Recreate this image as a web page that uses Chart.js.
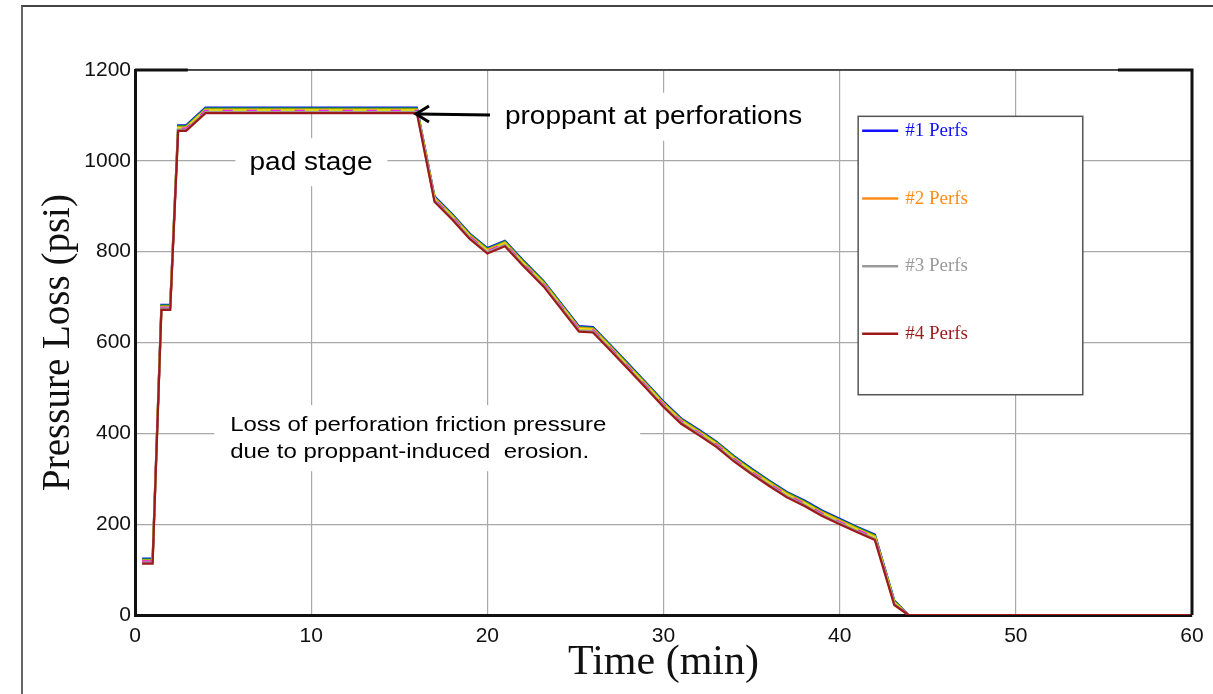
<!DOCTYPE html>
<html>
<head>
<meta charset="utf-8">
<title>Pressure Loss vs Time</title>
<script src="https://cdn.jsdelivr.net/npm/chart.js@4.4.1/dist/chart.umd.min.js"></script>
<style>
  html, body { margin: 0; padding: 0; background: #fff; }
  #frame { position: absolute; left: 21px; top: 5px; width: 1192px; height: 689px;
           border-top: 2px solid #444; border-left: 2px solid #666; box-sizing: border-box; }
  #wrap { position: absolute; left: 0; top: 0; width: 1213px; height: 694px; }
</style>
</head>
<body>
<div id="frame"></div>
<div id="wrap"><canvas id="lossChart" width="1213" height="694"></canvas></div>
<script>
// time axis shared by every curve (min)
var timeMin = [0.4, 1.0, 1.5, 2.0, 2.45, 2.9, 4.0, 16.0, 17.0, 18.0, 19.0, 20.0, 21.0, 22.0, 23.2, 25.2,
               26.0, 27.0, 28.0, 29.0, 30.0, 31.0, 32.0, 33.0, 34.0, 35.0, 36.0, 37.0, 38.0, 39.0,
               40.0, 41.0, 42.0, 43.1, 43.9, 60];

// pressure loss (psi) per perforation cluster
var perfs1 = [124, 124, 683, 683, 1078, 1078, 1117, 1117, 922, 883, 840, 808, 824, 782, 735, 636,
              634, 594, 553, 512, 470, 433, 408, 382, 350, 322, 296, 271, 252, 230, 212, 194, 177, 32, 0, 0];
var perfsG = [122, 122, 681, 681, 1076, 1076, 1115, 1115, 920, 881, 838, 806, 822, 780, 733, 634,
              632, 592, 551, 510, 468, 431, 406, 380, 348, 320, 294, 269, 250, 228, 210, 192, 175, 30, 0, 0];
var perfs2 = [120, 120, 679, 679, 1074, 1074, 1113, 1113, 918, 879, 836, 804, 820, 778, 731, 632,
              630, 590, 549, 508, 466, 429, 404, 378, 346, 318, 292, 267, 248, 226, 208, 190, 173, 28, 0, 0];
var perfsY = [119, 119, 678, 678, 1072, 1072, 1111, 1111, 916, 877, 834, 802, 818, 776, 729, 630,
              628, 588, 547, 506, 464, 427, 402, 376, 344, 316, 290, 265, 246, 224, 206, 188, 171, 27, 0, 0];
var perfsM = [118, 118, 677, 677, 1071, 1071, 1110, 1110, 915, 876, 833, 801, 817, 775, 728, 629,
              627, 587, 546, 505, 463, 426, 401, 375, 343, 315, 289, 264, 245, 223, 205, 187, 170, 26, 0, 0];
var perfs3 = [116, 116, 675, 675, 1069, 1069, 1108, 1108, 913, 874, 831, 799, 815, 773, 726, 627,
              625, 585, 544, 503, 461, 424, 399, 373, 341, 313, 287, 262, 243, 221, 203, 185, 168, 24, 0, 0];
var perfs4 = [113, 113, 672, 672, 1066, 1066, 1105, 1105, 910, 871, 828, 796, 812, 770, 723, 624,
              622, 582, 541, 500, 458, 421, 396, 370, 338, 310, 284, 259, 240, 218, 200, 182, 165, 22, 0, 0];

var xTicks = [0, 10, 20, 30, 40, 50, 60];
var yTicks = [0, 200, 400, 600, 800, 1000, 1200];

function pts(values) {
    return values.map(function (v, i) { return { x: timeMin[i], y: v }; });
}

function line(label, values, color, dash) {
    return {
        label: label,
        data: pts(values),
        borderColor: color,
        backgroundColor: color,
        borderWidth: 2.2,
        borderDash: dash || [],
        pointRadius: 0,
        tension: 0,
        fill: false
    };
}

function stretched(ctx, text, x, y, sx) {
    ctx.save();
    ctx.translate(x, y);
    ctx.scale(sx, 1);
    ctx.fillText(text, 0, 0);
    ctx.restore();
}

// white patches, notes, arrow, legend box and the plot frame
var overlay = {
    id: 'overlay',
    beforeDatasetsDraw: function (chart) {
        var ctx = chart.ctx, x = chart.scales.x, y = chart.scales.y;
        ctx.save();
        ctx.fillStyle = '#fff';
        // pad stage
        ctx.fillRect(x.getPixelForValue(5.7), y.getPixelForValue(1050), 152, 48);
        // proppant at perforations
        ctx.fillRect(x.getPixelForValue(20.4), y.getPixelForValue(1150), 322, 48);
        // loss of friction note
        ctx.fillRect(x.getPixelForValue(4.5), y.getPixelForValue(462), 426, 66);
        // legend box
        var lx = x.getPixelForValue(41.05), ly = y.getPixelForValue(1098);
        var lw = x.getPixelForValue(53.8) - lx, lh = y.getPixelForValue(485) - ly;
        ctx.fillRect(lx, ly, lw, lh);
        ctx.strokeStyle = '#555';
        ctx.lineWidth = 1.5;
        ctx.strokeRect(lx, ly, lw, lh);
        ctx.restore();
    },
    afterDraw: function (chart) {
        var ctx = chart.ctx, x = chart.scales.x, y = chart.scales.y, a = chart.chartArea;
        ctx.save();
        ctx.fillStyle = '#000';
        ctx.textBaseline = 'middle';
        ctx.textAlign = 'left';
        ctx.font = '25px "Liberation Sans", Arial, sans-serif';
        stretched(ctx, 'pad stage', x.getPixelForValue(6.5), y.getPixelForValue(995), 1.12);
        stretched(ctx, 'proppant at perforations', x.getPixelForValue(21.0), y.getPixelForValue(1097), 1.12);
        ctx.font = '20px "Liberation Sans", Arial, sans-serif';
        stretched(ctx, 'Loss of perforation friction pressure', x.getPixelForValue(5.4), y.getPixelForValue(418), 1.2);
        stretched(ctx, 'due to proppant-induced  erosion.', x.getPixelForValue(5.4), y.getPixelForValue(357), 1.2);

        // arrow to the end of the pad stage
        var ax0 = x.getPixelForValue(20.15), ax1 = x.getPixelForValue(15.95), ay = y.getPixelForValue(1101);
        ctx.strokeStyle = '#000';
        ctx.lineWidth = 3;
        ctx.beginPath();
        ctx.moveTo(ax0, ay);
        ctx.lineTo(ax1 + 2, ay - 1);
        ctx.stroke();
        ctx.beginPath();
        ctx.moveTo(ax1 + 13, ay - 9);
        ctx.lineTo(ax1, ay - 1);
        ctx.lineTo(ax1 + 13, ay + 7);
        ctx.stroke();

        // legend entries
        var lx = x.getPixelForValue(41.05);
        var rows = [1066, 917, 768, 619];
        var k = 0;
        chart.data.datasets.slice().reverse().forEach(function (ds) {
            if (ds.label.indexOf('Perfs') < 0) return;
            var ry = y.getPixelForValue(rows[k++]);
            ctx.strokeStyle = ds.borderColor;
            ctx.lineWidth = 2.5;
            ctx.setLineDash([]);
            ctx.beginPath();
            ctx.moveTo(lx + 4, ry);
            ctx.lineTo(lx + 40, ry);
            ctx.stroke();
            ctx.fillStyle = ds.borderColor;
            ctx.font = '19px "Liberation Serif", "Times New Roman", serif';
            ctx.fillText(ds.label, lx + 47, ry);
        });

        // plot frame: thin top, heavy right and heavy corner stubs
        ctx.strokeStyle = '#222';
        ctx.lineWidth = 1.5;
        ctx.beginPath();
        ctx.moveTo(a.left, a.top);
        ctx.lineTo(a.right, a.top);
        ctx.stroke();
        ctx.strokeStyle = '#111';
        ctx.lineWidth = 3;
        ctx.beginPath();
        ctx.moveTo(a.left, a.top);
        ctx.lineTo(x.getPixelForValue(3.0), a.top);
        ctx.moveTo(x.getPixelForValue(55.8), a.top);
        ctx.lineTo(a.right, a.top);
        ctx.lineTo(a.right, a.bottom);
        ctx.stroke();
        ctx.restore();
    }
};

var tickFont = { family: '"Liberation Sans", Arial, sans-serif', size: 21 };
function plain(v) { return String(v); }

var lossChart = new Chart(document.getElementById('lossChart'), {
    type: 'line',
    data: {
        datasets: [
            line('#4 Perfs', perfs4, '#9e1a1a'),
            line('#3 Perfs', perfs3, '#9a9a9a'),
            line('mag', perfsM, '#ff00ff', [10, 14]),
            line('yel', perfsY, '#e8e800'),
            line('#2 Perfs', perfs2, '#ff8c1a'),
            line('grn', perfsG, '#00c000'),
            line('#1 Perfs', perfs1, '#1010ff')
        ]
    },
    options: {
        responsive: false,
        animation: false,
        layout: { padding: { left: 0, right: 21, top: 70, bottom: 0 } },
        plugins: {
            legend: { display: false },
            tooltip: { enabled: false }
        },
        scales: {
            x: {
                type: 'linear',
                min: 0,
                max: 60,
                afterBuildTicks: function (s) { s.ticks = xTicks.map(function (v) { return { value: v }; }); },
                afterFit: function (s) { s.height = 79; },
                ticks: { color: '#111', font: tickFont, padding: 9, maxRotation: 0, callback: plain },
                grid: { color: '#a8a8a8', lineWidth: 1.2, drawTicks: false },
                border: { color: '#111', width: 3 },
                title: {
                    display: true,
                    text: 'Time (min)',
                    color: '#111',
                    font: { family: '"Liberation Serif", "Times New Roman", serif', size: 42 },
                    padding: { top: 0, bottom: 6 }
                }
            },
            y: {
                min: 0,
                max: 1200,
                afterBuildTicks: function (s) { s.ticks = yTicks.map(function (v) { return { value: v }; }); },
                afterFit: function (s) { s.width = 135; },
                ticks: { color: '#111', font: tickFont, padding: 4, callback: plain },
                grid: { color: '#a8a8a8', lineWidth: 1.2, drawTicks: false },
                border: { color: '#111', width: 3 },
                title: {
                    display: true,
                    text: 'Pressure Loss (psi)',
                    color: '#111',
                    font: { family: '"Liberation Serif", "Times New Roman", serif', size: 39 },
                    padding: { top: 35, bottom: 0 }
                }
            }
        }
    },
    plugins: [overlay]
});
</script>
</body>
</html>
